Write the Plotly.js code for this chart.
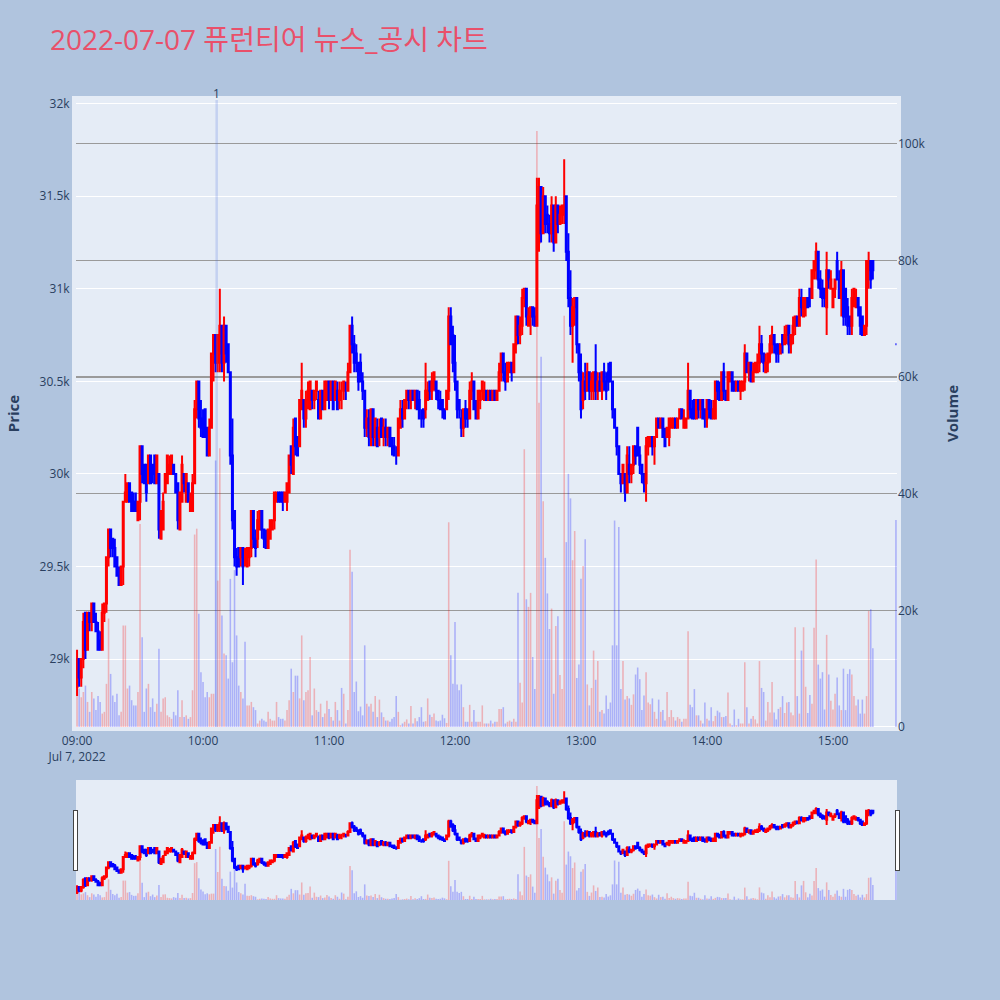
<!DOCTYPE html>
<html>
<head>
<meta charset="utf-8">
<script src="https://cdn.plot.ly/plotly-3.0.1.min.js"></script>
<style>html,body{margin:0;padding:0;background:#B0C4DE;}</style>
</head>
<body>
<div id="chart" style="width:1000px;height:1000px;"></div>
<script>
// One-minute candles, 09:00 .. 15:19, plus the 15:30 closing auction
const sessionDate = '2022-07-07';
const firstMinute = '09:00';
const candleCount = 380;
const closingAuctionTime = '2022-07-07 15:30:00';
const newsTime = '2022-07-07 10:06:30';
const newsLabel = '1';
const chartTitle = '2022-07-07 퓨런티어 뉴스_공시 차트';

const openPrices = [
28850,29000,28900,29000,29250,29050,29250,29200,29300,29200,29150,29100,29050,29250,29300,29550,29700,29650,29600,29550,
29450,29400,29500,29850,29850,29950,29900,29850,29850,29750,29850,30150,30050,30050,29950,30100,30050,30100,29950,30000,
29650,29700,29900,29950,30000,30000,30050,30000,29950,29700,29850,30000,29850,29950,29800,29800,29950,30350,30500,30300,
30300,30350,30250,30100,30250,30650,30750,30600,30650,30800,30600,30800,30700,30550,30100,29800,29550,29600,29550,29600,
29550,29500,29550,29600,29800,29650,29650,29700,29800,29700,29650,29600,29650,29700,29750,29850,29900,29900,29900,29850,
29850,29900,30150,30000,30300,30200,30150,30350,30400,30300,30400,30350,30450,30400,30450,30400,30300,30450,30350,30400,
30500,30400,30500,30400,30450,30400,30450,30450,30450,30450,30550,30800,30700,30650,30600,30600,30500,30450,30250,30300,
30200,30350,30200,30250,30200,30300,30200,30250,30200,30250,30150,30150,30100,30100,30250,30350,30300,30400,30450,30400,
30450,30400,30450,30400,30300,30350,30350,30400,30500,30450,30500,30500,30450,30400,30400,30350,30350,30450,30850,30750,
30600,30500,30400,30300,30250,30350,30350,30300,30450,30500,30350,30300,30400,30450,30400,30450,30400,30450,30400,30450,
30400,30450,30550,30650,30550,30500,30550,30600,30550,30700,30850,30750,30800,30950,31000,30800,30850,30900,30850,30800,
31250,31550,31300,31500,31400,31350,31300,31450,31250,31450,31350,31400,31400,31500,31200,30950,30800,30900,30950,30700,
30550,30400,30500,30450,30550,30450,30450,30550,30450,30500,30450,30550,30500,30550,30600,30500,30350,30250,30150,30000,
29950,30000,29900,30050,30000,30050,30150,30250,30100,30050,30000,29950,30150,30150,30200,30150,30200,30300,30250,30300,
30200,30200,30200,30250,30250,30300,30250,30300,30350,30250,30250,30300,30450,30350,30400,30300,30400,30350,30400,30350,
30300,30400,30350,30300,30300,30500,30450,30400,30550,30450,30400,30500,30550,30500,30450,30500,30450,30450,30500,30650,
30550,30600,30500,30550,30550,30600,30700,30650,30550,30600,30650,30700,30750,30700,30700,30650,30750,30700,30750,30800,
30700,30750,30800,30850,30800,30950,30850,30900,30950,31000,30950,31100,31100,31200,31050,31000,31000,30900,31100,31000,
30900,31000,31150,31050,30950,31100,31000,30900,30850,30800,30950,30900,30950,30900,30850,30750,30800,31100,31150,31150,
30700];

const highPrices = [
29050,29000,29000,29250,29250,29250,29250,29300,29300,29250,29200,29150,29300,29300,29550,29700,29700,29650,29650,29550,
29500,29500,29850,30000,29950,29950,29900,29900,29900,29850,30150,30150,30050,30050,30100,30100,30050,30100,30100,30000,
29800,29900,30000,30100,30100,30100,30050,30000,29950,29900,30100,30000,30000,29950,29900,30000,30400,30500,30500,30400,
30350,30350,30250,30300,30650,30750,30750,30750,31000,30800,30850,30800,30700,30550,30300,29800,29600,29600,29600,29600,
29600,29600,29600,29800,29800,29700,29800,29800,29800,29700,29700,29700,29750,29750,29900,29900,29900,29900,29900,29900,
29950,30100,30150,30300,30300,30200,30400,30600,30400,30450,30500,30500,30450,30450,30500,30450,30450,30450,30500,30500,
30500,30500,30500,30500,30500,30500,30500,30500,30500,30600,30800,30850,30750,30700,30600,30650,30550,30450,30350,30350,
30350,30350,30300,30300,30300,30300,30300,30300,30250,30250,30200,30200,30150,30300,30400,30400,30400,30450,30450,30450,
30450,30450,30450,30450,30350,30350,30600,30500,30500,30550,30550,30500,30450,30450,30400,30350,30450,30900,30900,30800,
30750,30500,30400,30350,30350,30400,30350,30500,30550,30500,30400,30450,30450,30500,30500,30450,30450,30450,30450,30450,
30450,30600,30650,30650,30600,30600,30600,30600,30700,30850,30850,30850,31000,31000,31000,30900,30900,30900,30900,31600,
31600,31550,31550,31500,31450,31400,31500,31450,31500,31450,31450,31450,31700,31500,31300,31100,30950,30950,30950,30700,
30650,30550,30600,30600,30550,30550,30550,30700,30550,30550,30550,30600,30550,30600,30600,30500,30350,30250,30150,30000,
30050,30000,30150,30150,30050,30150,30150,30250,30150,30050,30000,30200,30200,30200,30200,30200,30300,30300,30300,30300,
30250,30250,30300,30300,30300,30300,30300,30350,30350,30350,30300,30600,30450,30400,30400,30400,30400,30400,30400,30350,
30400,30400,30400,30400,30500,30500,30500,30550,30600,30450,30550,30550,30550,30500,30500,30500,30500,30500,30700,30650,
30600,30600,30600,30600,30650,30800,30750,30650,30650,30650,30750,30800,30750,30700,30700,30700,30750,30800,30800,30800,
30750,30850,30850,30850,31000,31000,30950,30950,30950,31000,31100,31150,31250,31200,31100,31050,31000,31200,31100,31100,
31000,31050,31200,31100,31150,31100,31000,30950,30850,31000,31000,31000,30950,30900,30850,30800,31150,31200,31150,31150,
30700];

const lowPrices = [
28800,28850,28850,28950,29000,29050,29150,29150,29200,29150,29050,29050,29050,29200,29250,29500,29550,29550,29500,29450,
29400,29400,29400,29850,29850,29850,29800,29800,29800,29750,29750,29950,29950,29850,29950,29950,29950,29950,29950,29650,
29650,29700,29900,29950,30000,30000,30000,29900,29700,29700,29850,29900,29850,29850,29800,29800,29950,30300,30250,30200,
30200,30200,30100,30100,30250,30500,30550,30550,30550,30550,30500,30600,30550,30050,29700,29500,29450,29500,29500,29400,
29500,29500,29500,29550,29600,29550,29600,29700,29650,29600,29600,29600,29650,29700,29700,29850,29850,29850,29800,29850,
29800,29900,30000,30000,30100,30100,30150,30350,30250,30250,30350,30350,30350,30350,30400,30300,30300,30350,30350,30400,
30350,30400,30350,30400,30350,30350,30350,30400,30400,30450,30550,30650,30550,30550,30450,30500,30400,30200,30200,30150,
30150,30150,30150,30150,30150,30200,30150,30150,30150,30150,30100,30100,30050,30100,30250,30250,30300,30350,30350,30350,
30400,30350,30350,30300,30250,30250,30300,30400,30400,30400,30450,30400,30350,30350,30300,30300,30350,30400,30700,30550,
30450,30300,30300,30200,30200,30250,30250,30300,30400,30350,30300,30300,30350,30400,30400,30400,30400,30400,30400,30400,
30400,30450,30500,30500,30450,30500,30550,30500,30550,30650,30700,30700,30750,30900,30800,30800,30750,30800,30800,30800,
31200,31250,31300,31300,31300,31250,31250,31200,31250,31300,31350,31350,31350,31150,30900,30750,30600,30800,30650,30500,
30300,30350,30400,30450,30400,30400,30400,30400,30400,30450,30400,30450,30400,30450,30500,30300,30250,30100,30000,29900,
29950,29850,29900,29950,29950,30000,30050,30100,30000,29950,29900,29850,30100,30150,30100,30050,30200,30250,30250,30200,
30150,30200,30150,30250,30250,30250,30250,30300,30300,30250,30250,30300,30300,30300,30300,30300,30300,30300,30300,30250,
30250,30300,30300,30300,30300,30400,30400,30400,30400,30400,30400,30500,30450,30450,30450,30450,30400,30450,30450,30550,
30500,30500,30500,30550,30550,30550,30600,30550,30550,30550,30600,30650,30650,30600,30600,30650,30650,30700,30700,30650,
30650,30700,30750,30800,30800,30850,30850,30850,30900,30900,30950,31050,31050,31000,30950,30900,30900,30750,31000,31000,
30900,30950,31050,30950,30850,30800,30800,30750,30750,30750,30900,30900,30850,30750,30750,30750,30750,31000,31000,31050,
30700];

const closePrices = [
29000,28900,29000,29200,29050,29250,29200,29300,29200,29150,29050,29050,29250,29300,29550,29700,29600,29600,29500,29450,
29400,29500,29850,29900,29950,29850,29800,29800,29800,29850,30150,30000,29950,29900,30100,29950,30000,29950,30100,29700,
29800,29850,30000,30100,30050,30100,30000,29900,29750,29900,30050,29950,30000,29850,29850,29950,30350,30500,30300,30250,
30200,30200,30100,30250,30650,30750,30600,30750,30800,30600,30800,30650,30550,30100,29750,29550,29500,29500,29600,29500,
29550,29600,29600,29800,29650,29600,29750,29800,29700,29650,29600,29700,29750,29750,29900,29900,29850,29850,29850,29900,
29950,30100,30050,30250,30150,30100,30400,30450,30300,30400,30450,30500,30400,30450,30500,30300,30450,30350,30500,30500,
30400,30500,30350,30500,30350,30450,30450,30500,30450,30550,30800,30700,30600,30600,30500,30500,30450,30250,30300,30200,
30350,30200,30300,30150,30250,30200,30250,30200,30250,30150,30150,30100,30100,30300,30350,30300,30400,30450,30400,30450,
30400,30450,30350,30300,30300,30300,30450,30450,30450,30500,30550,30450,30400,30350,30350,30300,30450,30850,30700,30600,
30500,30350,30350,30250,30350,30300,30300,30450,30500,30350,30300,30450,30450,30500,30450,30400,30450,30400,30450,30400,
30450,30550,30650,30550,30500,30600,30600,30550,30700,30850,30750,30800,30950,31000,30850,30850,30900,30850,30800,31450,
31550,31300,31500,31350,31350,31300,31450,31250,31450,31350,31400,31450,31450,31200,30950,30800,30900,30950,30700,30550,
30350,30500,30450,30550,30450,30500,30550,30450,30500,30450,30550,30500,30450,30500,30500,30350,30250,30150,30000,29950,
30050,29900,30100,30000,30050,30150,30100,30100,30050,30000,29950,30150,30200,30200,30150,30200,30300,30250,30300,30200,
30150,30250,30300,30300,30300,30250,30300,30350,30300,30300,30300,30450,30350,30300,30300,30400,30350,30400,30300,30300,
30400,30350,30300,30350,30500,30450,30400,30550,30450,30400,30550,30550,30450,30450,30500,30450,30500,30500,30650,30550,
30600,30500,30550,30600,30600,30700,30650,30600,30600,30650,30700,30750,30700,30650,30650,30700,30700,30750,30800,30700,
30750,30800,30850,30800,30950,30900,30950,30950,30900,30950,31100,31150,31200,31050,31000,30950,30950,31100,31050,31050,
31000,31050,31050,30950,31100,30850,30850,30800,30800,30950,31000,30950,30900,30800,30750,30800,31150,31150,31050,31100,
30700];

const volumes = [
5300,6600,5100,6000,7100,4300,2600,6000,4900,2900,5300,4300,2300,2600,7400,18600,9100,5400,4300,5700,
2000,2600,17400,17400,6600,7100,4600,3700,3700,6000,34800,15400,2600,6600,7400,3400,4900,2600,4000,13400,
2600,4900,5100,2000,1700,1400,2600,2000,6300,1700,4600,1700,2000,1400,1700,6300,33000,34000,19400,9400,
7700,5100,6000,5100,5700,5700,45700,25100,47800,19100,12600,12300,8300,25400,11100,26900,15700,7100,6000,4900,
14600,3700,3700,4300,3400,2900,600,1100,1400,1100,900,2600,1400,1100,1100,4300,1700,1400,1400,1100,
2900,4600,10000,6000,8800,8800,4900,15700,4600,6000,6300,12000,2000,6600,2900,2600,4000,1700,2300,4500,
3100,1700,1100,4300,2900,1100,6700,5700,600,2900,30400,26600,6000,7800,2700,3500,2000,14000,4000,3500,
4000,2600,5300,1700,4700,2500,1700,1100,1100,900,1400,1700,5300,2600,300,600,900,1300,600,3600,
600,1500,1000,1700,3400,900,1000,4900,2100,1700,2300,1100,1000,1100,2100,1500,700,35100,12300,7400,
18000,7300,6300,7300,3400,900,900,3800,900,2900,900,900,900,3700,600,600,600,1100,600,900,
900,3100,3100,3400,600,900,1100,900,1400,900,23000,7600,4200,47600,21900,20600,23000,12000,6500,102200,
55600,63500,38700,29000,22900,16800,20300,5700,17300,19000,8900,6500,70500,31700,43400,39200,28600,33600,8400,10700,
25400,27600,32200,7300,3700,6700,13100,8100,11300,2600,2900,2300,5400,3100,4200,14000,35400,14000,34300,6500,
11300,4700,5300,4900,3800,5600,9000,10200,8200,2900,5400,9400,4200,3900,4900,2600,1400,4700,2600,2900,
1100,6000,1700,2900,1700,1100,1700,1400,900,1400,1400,16400,3800,3400,6500,2000,2000,1100,600,4200,
1400,1100,3400,1000,1900,2800,2500,1700,1700,1900,5900,600,300,3000,300,1400,600,600,11100,3400,
600,1400,1900,1300,600,11300,6700,6000,1100,4300,2500,7700,2500,1300,3100,3400,5300,2400,4200,4300,
2500,2000,17100,5300,2300,13100,17100,6900,2400,5500,4000,17000,28700,10700,8300,9400,3000,15800,9000,4500,
3000,5700,8500,3700,2900,10000,2900,9100,9900,9000,5300,3700,4700,2300,4700,2300,5300,19900,20200,13500,
35500];

// timestamps (axis categories): one per minute from 09:00, then the closing auction
function pad(n){ return (n < 10 ? '0' : '') + n; }
const times = [];
const startParts = firstMinute.split(':');
const startMin = (+startParts[0]) * 60 + (+startParts[1]);
for (let i = 0; i < candleCount; i++) {
  const t = startMin + i;
  times.push(sessionDate + ' ' + pad(Math.floor(t / 60)) + ':' + pad(t % 60) + ':00');
}
times.push(closingAuctionTime);

const barColors = closePrices.map((c, i) => c > openPrices[i] ? 'red' : 'blue');

const candles = {
  type: 'candlestick',
  x: times, open: openPrices, high: highPrices, low: lowPrices, close: closePrices,
  increasing: {line: {color: 'red', width: 2}, fillcolor: 'red'},
  decreasing: {line: {color: 'blue', width: 2}, fillcolor: 'blue'},
  xaxis: 'x', yaxis: 'y', name: 'Price', showlegend: false
};
const volBars = {
  type: 'bar', x: times, y: volumes,
  marker: {color: barColors, opacity: 0.25, line: {width: 0}},
  xaxis: 'x', yaxis: 'y2', name: 'Volume', showlegend: false
};

const xRange = ['2022-07-07 08:59:30', '2022-07-07 15:30:30'];

const layout = {
  width: 1000, height: 1000,
  paper_bgcolor: '#B0C4DE', plot_bgcolor: '#E5ECF6',
  font: {family: '"Open Sans", verdana, arial, sans-serif', color: '#2a3f5f', size: 12},
  title: {text: chartTitle, x: 0.05, xanchor: 'left', xref: 'container', y: 0.96, yanchor: 'middle',
          font: {size: 28, color: '#E9506A', family: '"Open Sans", "Noto Sans CJK KR", sans-serif'}},
  margin: {l: 76, r: 103, t: 100, b: 100, pad: 0},
  showlegend: false,
  bargap: 0.25,
  xaxis: {
    type: 'date', range: xRange, showgrid: false, zeroline: false,
    showline: true, mirror: true, linecolor: '#E5ECF6', linewidth: 4,
    tickfont: {size: 12},
    rangeslider: {visible: true, thickness: 0.15, bgcolor: '#E5ECF6', borderwidth: 0, range: xRange}
  },
  yaxis: {
    range: [28633, 32020], gridcolor: 'white', gridwidth: 1, zeroline: false,
    showline: true, mirror: true, linecolor: '#E5ECF6', linewidth: 4,
    title: {text: 'Price', font: {size: 15, weight: 'bold'}, standoff: 17},
    automargin: true
  },
  yaxis2: {
    overlaying: 'y', side: 'right', range: [0, 107500],
    showgrid: true, gridcolor: '#9a9a9a', gridwidth: 1.5,
    zeroline: true, zerolinecolor: 'white', zerolinewidth: 2,
    title: {text: 'Volume', font: {size: 15, weight: 'bold'}, standoff: 22},
    automargin: true
  },
  shapes: [{
    type: 'line', xref: 'x', yref: 'paper', x0: newsTime, x1: newsTime, y0: 0, y1: 1,
    line: {color: 'rgba(65,105,225,0.2)', width: 2.5}
  }],
  annotations: [{
    xref: 'x', yref: 'paper', x: newsTime, y: 1, yanchor: 'bottom', yshift: -4,
    text: newsLabel, showarrow: false, font: {size: 12, color: '#2a3f5f'}
  }]
};

Plotly.newPlot('chart', [candles, volBars], layout, {displayModeBar: false, staticPlot: true});
</script>
</body>
</html>
